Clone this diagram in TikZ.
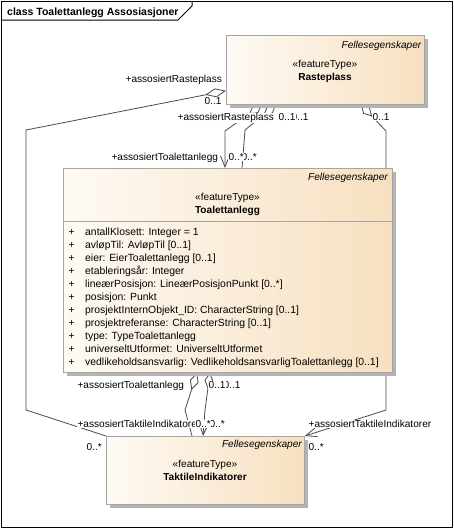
\documentclass[tikz,border=0pt]{standalone}
\usepackage{fontspec}
\setmainfont{Liberation Sans}
\usetikzlibrary{arrows.meta,calc,shadows}
\definecolor{boxL}{RGB}{254,250,244}
\definecolor{boxR}{RGB}{247,224,192}
\definecolor{boxB}{RGB}{165,165,165}
\definecolor{shad}{RGB}{180,180,180}
\definecolor{conn}{RGB}{75,75,75}
\pgfdeclarelayer{bg}
\pgfdeclarelayer{paper}
\pgfsetlayers{paper,bg,main}
\newcommand{\uf}{\fontsize{10.1}{12}\selectfont}
\newcommand{\af}{\fontsize{10.4}{12}\selectfont}
\tikzset{
  umlbox/.style={draw=boxB, line width=0.8pt, left color=boxL, right color=boxR,
    inner sep=0pt, anchor=north west,
    general shadow={shadow xshift=4pt, shadow yshift=-4pt, fill=shad}},
  txt/.style={inner sep=0pt, font=\uf},
  lbl/.style={fill=white, inner sep=0.4pt, anchor=base west, font=\uf},
  conline/.style={draw=conn, line width=0.8pt},
  agg/.style={{Diamond[length=#1,width=9pt,fill=white,line width=0.8pt]}-},
  aggarr/.style={{Diamond[length=#1,width=9pt,fill=white,line width=0.8pt]}-{Straight Barb[length=11pt,width=9pt,line width=0.8pt]}},
}
\begin{document}
\begin{tikzpicture}[x=1pt,y=-1pt]
\useasboundingbox (0,0) rectangle (454,530);
\begin{pgfonlayer}{paper}
\fill[white] (0,0) rectangle (454,530);
\end{pgfonlayer}
% frame
\draw[line width=1pt] (1.5,1.5) rectangle (452.5,527.5);
\draw[line width=1pt] (1.5,20) -- (178,20) -- (192,6) -- (192,1.5);
\node[txt, anchor=base west, font=\fontsize{10.5}{12}\selectfont\bfseries] (title) at (7,15) {class Toalettanlegg Assosiasjoner};

% boxes
\node[umlbox, minimum width=198pt, minimum height=69pt] (ras) at (226,35) {};
\node[umlbox, minimum width=329pt, minimum height=204pt] (toa) at (63,168) {};
\node[umlbox, minimum width=198pt, minimum height=68pt] (tak) at (106,436) {};
\draw[boxB, line width=0.8pt] ($(toa.north west)+(0,53)$) -- ($(toa.north east)+(0,53)$);

% Rasteplass texts
\node[txt, anchor=base east, font=\uf\itshape] (rasF) at (421.5,48.5) {Fellesegenskaper};
\node[txt, anchor=base] (rasS) at (325,67.5) {«featureType»};
\node[txt, anchor=base, font=\uf\bfseries] (rasN) at (325,80.5) {Rasteplass};

% Toalettanlegg texts
\node[txt, anchor=base east, font=\uf\itshape] (toaF) at (388,180.5) {Fellesegenskaper};
\node[txt, anchor=base] (toaS) at (227.5,200.5) {«featureType»};
\node[txt, anchor=base, font=\uf\bfseries] (toaN) at (227.5,213.5) {Toalettanlegg};
\foreach \t [count=\i from 0] in {
  {antallKlosett: Integer = 1},
  {avløpTil: AvløpTil [0..1]},
  {eier: EierToalettanlegg [0..1]},
  {etableringsår: Integer},
  {lineærPosisjon: LineærPosisjonPunkt [0..*]},
  {posisjon: Punkt},
  {prosjektInternObjekt\_ID: CharacterString [0..1]},
  {prosjektreferanse: CharacterString [0..1]},
  {type: TypeToalettanlegg},
  {universeltUtformet: UniverseltUtformet},
  {vedlikeholdsansvarlig: VedlikeholdsansvarligToalettanlegg [0..1]}}{
  \node[txt, anchor=base, font=\af] (p\i) at (71.7,235.5+13*\i) {+};
  \node[txt, anchor=base west, font=\af] (a\i) at (85,235.5+13*\i) {\t};
}

% TaktileIndikatorer texts
\node[txt, anchor=base east, font=\uf\itshape] (takF) at (302,447.5) {Fellesegenskaper};
\node[txt, anchor=base] (takS) at (205,467.5) {«featureType»};
\node[txt, anchor=base, font=\uf\bfseries] (takN) at (205,480.5) {TaktileIndikatorer};

% connectors
\begin{pgfonlayer}{bg}
\coordinate (c1a) at (26,130);
\coordinate (c1b) at (26,410);
\draw[conline, agg=21pt] ($(ras.south west)+(0,-14)$) -- (c1a) -- (c1b) -- (tak.north west);
\coordinate (c2a) at (225,131);
\draw[conline, {Diamond[length=16pt,width=9pt,fill=white,line width=0.8pt]}-{Straight Barb[length=11pt,width=9pt,line width=0.8pt]}]
  ($(ras.south west)+(36,0)$) -- (c2a) -- ($(toa.north west)+(162,0)$);
\coordinate (c2b) at (245,130);
\draw[conline, agg=16pt] ($(ras.south west)+(50,0)$) -- (c2b) -- ($(toa.north west)+(179,0)$);
\coordinate (c3a) at (386,131);
\coordinate (c3b) at (386,410);
\draw[conline, aggarr=16pt] ($(ras.south west)+(135,0)$) -- (c3a) -- (c3b) -- (tak.north east);
\coordinate (c4a) at (185,410);
\draw[conline, agg=18pt] ($(toa.south west)+(134,0)$) -- (c4a) -- ($(tak.north west)+(86,0)$);
\coordinate (c4b) at (205,410);
\draw[conline, aggarr=16pt] ($(toa.south west)+(147,0)$) -- (c4b) -- ($(tak.north west)+(97,0)$);
\end{pgfonlayer}

% labels
\node[lbl, anchor=base east] (l1) at (222.5,82.5) {+assosiertRasteplass};
\node[lbl] (l2) at (204,104.5) {0..1};
\node[lbl] (l3) at (177,120.5) {+assosiertRasteplass};
\node[lbl] (l4b) at (291,120.5) {0..1};
\node[lbl] (l4) at (278,120.5) {0..1};
\node[lbl] (l5) at (372,120.5) {0..1};
\node[lbl] (l6) at (111,160.5) {+assosiertToalettanlegg};
\node[lbl] (l7b) at (241,160.5) {0..*};
\node[lbl] (l7) at (228,160.5) {0..*};
\node[lbl] (l8) at (77,388.5) {+assosiertToalettanlegg};
\node[lbl] (l9b) at (223,388.5) {0..1};
\node[lbl] (l9) at (208,388.5) {0..1};
\node[lbl] (l10) at (77,427.5) {+assosiertTaktileIndikatorer};
\node[lbl] (l10c) at (209,427.5) {0..*};
\node[lbl] (l10b) at (195,427.5) {0..*};
\node[lbl] (l11) at (86,450.5) {0..*};
\node[lbl] (l12) at (308,427.5) {+assosiertTaktileIndikatorer};
\node[lbl] (l13) at (308,450.5) {0..*};
\end{tikzpicture}
\end{document}
